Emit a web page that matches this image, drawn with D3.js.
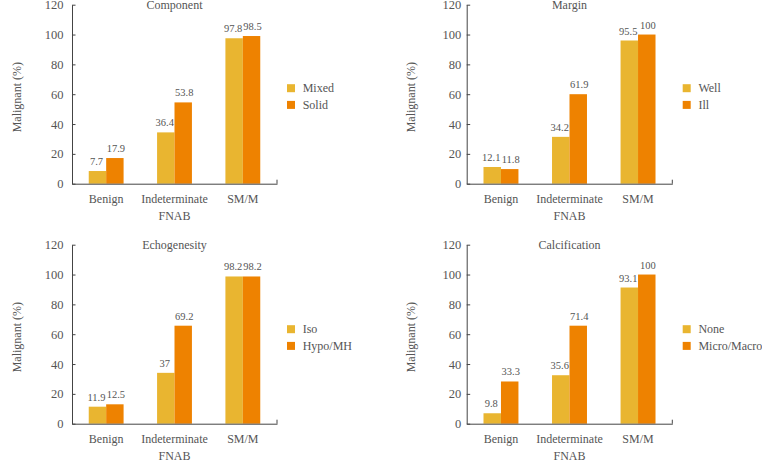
<!DOCTYPE html>
<html>
<head>
<meta charset="utf-8">
<script src="https://cdn.jsdelivr.net/npm/d3@7"></script>
<style>
  html, body { margin: 0; padding: 0; background: #fff; }
  svg { display: block; }
  svg text { font-family: "Liberation Serif", "Times New Roman", Times, "DejaVu Serif", serif !important; fill: #555; }
</style>
</head>
<body>
<svg id="chart" width="762" height="460"></svg>
<script>
// ---- data ----
const categories = ["Benign", "Indeterminate", "SM/M"];
const yTicks = [0, 20, 40, 60, 80, 100, 120];
const titles = ["Component", "Margin", "Echogenesity", "Calcification"];
const seriesNames = [["Mixed", "Solid"], ["Well", "Ill"], ["Iso", "Hypo/MH"], ["None", "Micro/Macro"]];
// bar heights as drawn in the picture
const lightValues = [[8.5, 34.4, 97.5], [11.2, 31.4, 96.0], [11.4, 34.1, 98.7], [7.0, 32.5, 91.3]];
const darkValues  = [[17.2, 54.5, 99.0], [9.8, 60.0, 100], [13.0, 65.7, 98.7], [28.3, 65.7, 100]];
// printed value labels
const lightLabels = [["7.7", "36.4", "97.8"], ["12.1", "34.2", "95.5"], ["11.9", "37", "98.2"], ["9.8", "35.6", "93.1"]];
const darkLabels  = [["17.9", "53.8", "98.5"], ["11.8", "61.9", "100"], ["12.5", "69.2", "98.2"], ["33.3", "71.4", "100"]];
const xTitle = "FNAB";
const yTitle = "Malignant (%)";

// ---- layout ----
const FONT = '"Liberation Serif", "Times New Roman", Times, "DejaVu Serif", serif';
const colors = ["#E9B530", "#EE8200"];
const colX = [[72, 277], [466.7, 672.3]];
const rowY = [[183.7, 4.7], [423.7, 244.7]];
const tickGap = [8.5, 5.5];
const legendX = [287, 682.7];

const svg = d3.select("#chart").attr("font-family", FONT);

titles.forEach((title, i) => {
  const col = i % 2, row = Math.floor(i / 2);
  const [x0, x1] = colX[col];
  const [y0, y1] = rowY[row];
  const g = svg.append("g").attr("font-family", FONT);

  const x = d3.scaleBand().domain(categories).range([x0, x1]).paddingInner(0.49).paddingOuter(0.245);
  const xs = d3.scaleBand().domain([0, 1]).range([0, x.bandwidth()]);
  const y = d3.scaleLinear().domain([0, 120]).range([y0, y1]);

  // y axis
  const yAxis = d3.axisLeft(y).tickValues(yTicks).tickSizeInner(-3.5).tickSizeOuter(0).tickPadding(tickGap[col]);
  const ya = g.append("g").attr("transform", `translate(${x0},0)`).call(yAxis).attr("font-family", FONT);
  ya.select(".domain").attr("stroke", "#444");
  ya.selectAll(".tick line").attr("stroke", "#444");
  ya.selectAll(".tick text").attr("font-size", 12.5).attr("fill", "#555");

  // bars
  const series = [lightValues[i], darkValues[i]];
  const labels = [lightLabels[i], darkLabels[i]];
  series.forEach((vals, s) => {
    g.selectAll(null).data(vals).enter().append("rect")
      .attr("x", (d, k) => x(categories[k]) + xs(s))
      .attr("width", xs.bandwidth())
      .attr("y", d => y(d))
      .attr("height", d => y0 - y(d))
      .attr("fill", colors[s]);
    g.selectAll(null).data(vals).enter().append("text")
      .attr("x", (d, k) => x(categories[k]) + xs(s) + xs.bandwidth() / 2 + (s === 0 ? -1 : 1))
      .attr("y", d => y(d) - 6)
      .attr("text-anchor", "middle")
      .attr("font-size", 10.5)
      .text((d, k) => labels[s][k]);
  });

  // x axis
  const xAxis = d3.axisBottom(x).tickSize(0).tickPadding(10.5);
  const xa = g.append("g").attr("transform", `translate(0,${y0})`).call(xAxis).attr("font-family", FONT);
  xa.select(".domain").attr("stroke", "#444");
  xa.selectAll(".tick text").attr("font-size", 12).attr("fill", "#555");
  g.append("line").attr("x1", x1).attr("x2", x1).attr("y1", y0).attr("y2", y0 - 4).attr("stroke", "#444");

  // x title
  g.append("text").attr("x", (x0 + x1) / 2).attr("y", y0 + 36.3)
    .attr("text-anchor", "middle").attr("font-size", 12).text(xTitle);

  // y title
  g.append("text").attr("transform", `translate(${x0 - 51.5},${(y0 + y1) / 2 + 3}) rotate(-90)`)
    .attr("text-anchor", "middle").attr("font-size", 12).text(yTitle);

  // panel title
  g.append("text").attr("x", (x0 + x1) / 2).attr("y", y1 + 4)
    .attr("text-anchor", "middle").attr("font-size", 12).text(title);

  // legend
  seriesNames[i].forEach((name, s) => {
    const ly = y1 + 79.5 + row * 1 + s * 16.7;
    g.append("rect").attr("x", legendX[col]).attr("y", ly).attr("width", 8).attr("height", 8).attr("fill", colors[s]);
    g.append("text").attr("x", legendX[col] + 15.7).attr("y", ly + 8).attr("font-size", 12).text(name);
  });
});
</script>
</body>
</html>
